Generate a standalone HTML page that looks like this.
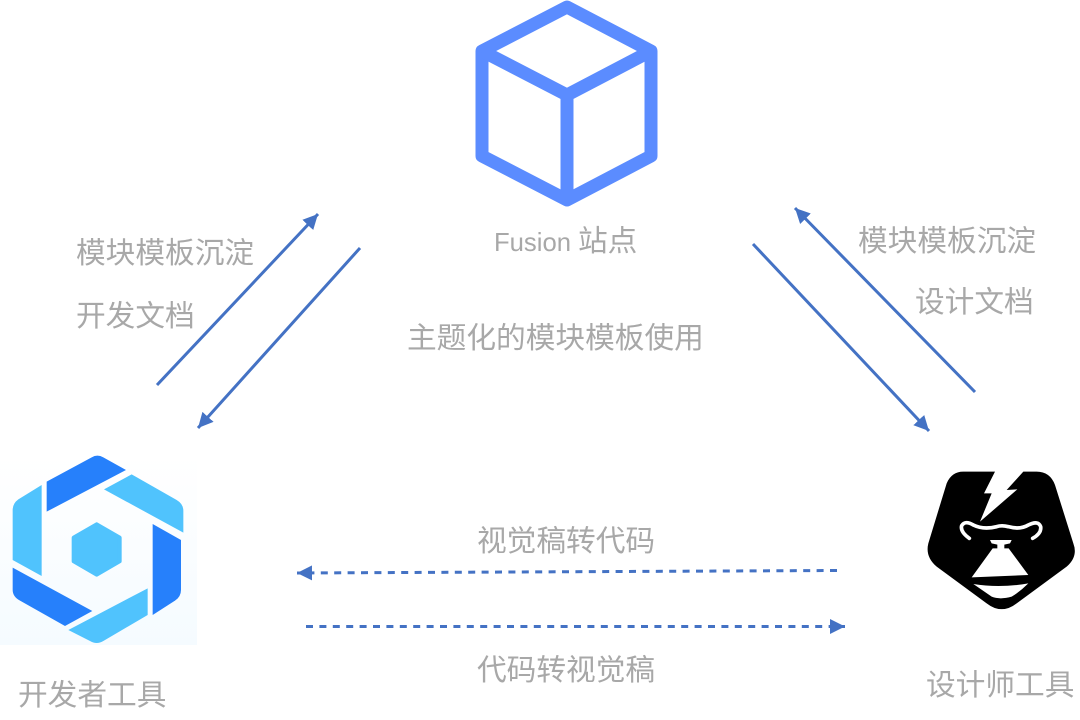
<!DOCTYPE html>
<html><head><meta charset="utf-8"><style>
html,body{margin:0;padding:0;background:#fff;width:1080px;height:720px;overflow:hidden}
svg{display:block}
text{font-family:"Liberation Sans","Noto Sans CJK SC",sans-serif;fill:#a8a8a8;font-size:29.7px}
</style></head><body>
<svg width="1080" height="720" viewBox="0 0 1080 720" xmlns="http://www.w3.org/2000/svg">
<defs>
<marker id="a" viewBox="0 0 10 10" refX="10" refY="5" markerWidth="15" markerHeight="15" markerUnits="userSpaceOnUse" orient="auto"><path d="M0 0L10 5L0 10Z" fill="#4472c4"/></marker>
<linearGradient id="bg" x1="0" y1="0" x2="0" y2="1"><stop offset="0" stop-color="#ffffff"/><stop offset="1" stop-color="#f5fbff"/></linearGradient>
</defs>
<!-- cube -->
<g fill="none" stroke="#5b8cff" stroke-width="13" stroke-linejoin="round">
<path d="M567 7L651 51V156L567 200L482 156V51Z"/>
<path d="M482 51L567 95L651 51M567 95V200"/>
</g>
<!-- dev tool logo -->
<rect x="0" y="455" width="197" height="190" fill="url(#bg)"/>
<g transform="translate(0,440) scale(.33333)">
<path fill="#2680fb" d="M140 125L275 52Q292 42 310 52L378 90L140 215Z"/>
<path fill="#50c3fd" d="M312 148L395 103L530 180Q550 192 550 212V278Z"/>
<path fill="#2680fb" d="M458 252L543 300V450Q543 470 525 482L458 525Z"/>
<path fill="#50c3fd" d="M443 445V525L310 603Q290 615 270 603L205 570Z"/>
<path fill="#2680fb" d="M38 383L277 513L195 558L60 482Q38 470 38 450Z"/>
<path fill="#50c3fd" d="M125 135V408L38 360V210Q38 190 55 178Z"/>
<path fill="#50c3fd" stroke="#50c3fd" stroke-width="12" stroke-linejoin="round" d="M290 253L359 293V364L290 404L221 364V293Z"/>
</g>
<!-- gorilla logo -->
<g transform="translate(910,460) scale(.33333)">
<path fill="#000" d="M255 35H160Q125 35 110 70L55 250Q45 290 80 320L230 430Q275 465 320 430L470 320Q505 290 490 250L435 75Q420 35 380 35H340L290 90L322 88L210 185L245 100L222 100Z"/>
<path fill="none" stroke="#fff" stroke-width="11" stroke-linecap="round" d="M178 235Q150 215 155 197Q165 180 190 195Q220 210 260 200Q275 195 295 200Q330 210 355 195Q385 180 392 200Q395 220 368 235"/>
<path fill="#fff" d="M240 240H305L300 250L283 254V265H296L355 345L185 352L248 265H262V254L245 250Z"/>
<path fill="#fff" d="M190 372Q270 385 355 370Q330 395 305 410Q270 420 245 410Z"/>
</g>
<!-- arrows -->
<g fill="none" stroke="#4472c4" stroke-width="3">
<path d="M157 385L318 214" marker-end="url(#a)"/>
<path d="M360 248L198 428" marker-end="url(#a)"/>
<path d="M975 392L795 208" marker-end="url(#a)"/>
<path d="M753 244L929 431" marker-end="url(#a)"/>
<path d="M837 570.500L297 573" stroke-dasharray="7 6.400" marker-end="url(#a)"/>
<path d="M306 626.500H845" stroke-dasharray="7 6.400" marker-end="url(#a)"/>
</g>
<!-- labels -->
<text x="494" y="251" style="font-size:26px" textLength="77" lengthAdjust="spacingAndGlyphs">Fusion</text>
<text x="578" y="251">站点</text>
<text x="76" y="263">模块模板沉淀</text>
<text x="76" y="326">开发文档</text>
<text x="858" y="251">模块模板沉淀</text>
<text x="915" y="312">设计文档</text>
<text x="407" y="348">主题化的模块模板使用</text>
<text x="477" y="551">视觉稿转代码</text>
<text x="477" y="680">代码转视觉稿</text>
<text x="18" y="705">开发者工具</text>
<text x="926" y="695">设计师工具</text>
</svg>
</body></html>
